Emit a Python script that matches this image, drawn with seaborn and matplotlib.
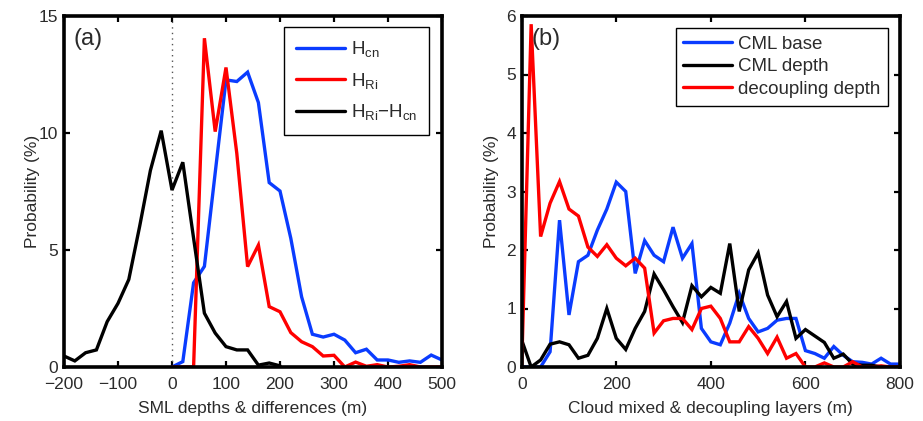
import numpy as np
import pandas as pd
import matplotlib
matplotlib.use("Agg")
import matplotlib.pyplot as plt
import seaborn as sns

# ---- panel (a): SML depths and their difference (probability, %) ----
x_diff = [-200, -180, -160, -140, -120, -100, -80, -60, -40, -20, 0,
          20, 40, 60, 80, 100, 120, 140, 160, 180, 200]
p_diff = [0.47, 0.26, 0.61, 0.73, 1.94, 2.72, 3.74, 6.0, 8.4, 10.1, 7.56,
          8.75, 5.5, 2.3, 1.45, 0.87, 0.73, 0.73, 0.08, 0.17, 0.05]

x_sml = [0, 20, 40, 60, 80, 100, 120, 140, 160, 180, 200, 220, 240, 260,
         280, 300, 320, 340, 360, 380, 400, 420, 440, 460, 480, 500]
p_hcn = [0.0, 0.23, 3.6, 4.3, 8.3, 12.27, 12.2, 12.6, 11.3, 7.88, 7.52, 5.5,
         3.0, 1.4, 1.28, 1.4, 1.15, 0.61, 0.76, 0.3, 0.3, 0.2, 0.26, 0.2,
         0.51, 0.3]
p_hri = [0.0, 0.0, 0.0, 14.05, 10.06, 12.8, 9.13, 4.29, 5.21, 2.58, 2.36,
         1.47, 1.08, 0.87, 0.47, 0.5, 0.0, 0.21, 0.03, 0.1, 0.0, 0.03, 0.1,
         0.0, 0.0, 0.0]

# ---- panel (b): cloud mixed layer and decoupling layers ----
x_cml = list(range(0, 801, 20))
p_cml_base = [0.0, 0.0, 0.0, 0.26, 2.51, 0.89, 1.8, 1.91, 2.34, 2.7, 3.16,
              3.0, 1.6, 2.16, 1.91, 1.8, 2.39, 1.86, 2.11, 0.66, 0.43, 0.38,
              0.75, 1.26, 0.83, 0.6, 0.66, 0.8, 0.83, 0.83, 0.28, 0.23, 0.15,
              0.35, 0.2, 0.09, 0.08, 0.05, 0.15, 0.05, 0.05]
p_cml_depth = [0.46, 0.0, 0.12, 0.39, 0.43, 0.38, 0.15, 0.2, 0.49, 1.0,
               0.49, 0.3, 0.66, 0.95, 1.59, 1.32, 1.03, 0.76, 1.39, 1.2,
               1.36, 1.26, 2.11, 0.95, 1.66, 1.95, 1.23, 0.86, 1.12, 0.49,
               0.64, 0.53, 0.42, 0.15, 0.22, 0.05, 0.03, 0.03, 0.0, 0.0, 0.0]
p_decoup = [0.0, 5.86, 2.23, 2.8, 3.17, 2.7, 2.58, 2.05, 1.89, 2.09, 1.86,
            1.73, 1.86, 1.69, 0.58, 0.79, 0.83, 0.83, 0.64, 1.0, 1.04, 0.83,
            0.43, 0.43, 0.69, 0.49, 0.23, 0.51, 0.15, 0.23, 0.0, 0.0, 0.07,
            0.0, 0.0, 0.09, 0.0, 0.0, 0.02, 0.0, 0.0]

xticks_a = [-200, -100, 0, 100, 200, 300, 400, 500]
yticks_a = [0, 5, 10, 15]
xticks_b = [0, 200, 400, 600, 800]
yticks_b = [0, 1, 2, 3, 4, 5, 6]

BLUE = "#0a3cff"
RED = "#ff0000"
BLACK = "#000000"
TXT = "#2b2b2b"

sns.set_theme(style="ticks")
plt.rcParams["font.family"] = ["Liberation Sans", "DejaVu Sans"]
plt.rcParams["mathtext.fontset"] = "custom"
plt.rcParams["mathtext.rm"] = "Liberation Sans"
plt.rcParams["mathtext.it"] = "Liberation Sans"
plt.rcParams["text.color"] = TXT
plt.rcParams["axes.labelcolor"] = TXT
plt.rcParams["xtick.color"] = BLACK
plt.rcParams["ytick.color"] = BLACK
plt.rcParams["xtick.labelcolor"] = TXT
plt.rcParams["ytick.labelcolor"] = TXT

fig = plt.figure(figsize=(9.23, 4.21), dpi=100)
ax_a = fig.add_axes([64 / 923, 1 - 367 / 421, 378 / 923, 351 / 421])
ax_b = fig.add_axes([521.7 / 923, 1 - 367 / 421, 378.3 / 923, 351 / 421])

LW = 2.4


def style_axes(ax, xlim, ylim, xticks, yticks):
    ax.set_xlim(*xlim)
    ax.set_ylim(*ylim)
    ax.set_xticks(xticks)
    ax.set_yticks(yticks)
    ax.set_xticklabels([str(t).replace("-", "\u2212") for t in xticks])
    ax.tick_params(direction="in", length=4, width=1.6, top=True, right=True,
                   labelsize=12.5)
    ax.tick_params(axis="x", pad=7)
    ax.tick_params(axis="y", pad=4)
    for sp in ax.spines.values():
        sp.set_visible(True)
        sp.set_linewidth(2.6)
        sp.set_color(BLACK)
    ax.grid(False)


# panel (a)
df_hcn = pd.DataFrame({"x": x_sml, "p": p_hcn})
df_hri = pd.DataFrame({"x": x_sml, "p": p_hri})
df_diff = pd.DataFrame({"x": x_diff, "p": p_diff})

ax_a.axvline(0, color="#555555", lw=1.0, ls=(0, (1, 3)), zorder=1)
sns.lineplot(data=df_hcn, x="x", y="p", ax=ax_a, color=BLUE, lw=LW,
             label=r"$\mathrm{H_{cn}}$")
sns.lineplot(data=df_hri, x="x", y="p", ax=ax_a, color=RED, lw=LW,
             label=r"$\mathrm{H_{Ri}}$")
sns.lineplot(data=df_diff, x="x", y="p", ax=ax_a, color=BLACK, lw=LW,
             label=r"$\mathrm{H_{Ri}{-}H_{cn}}$")
style_axes(ax_a, (-200, 500), (0, 15), xticks_a, yticks_a)
ax_a.set_xlabel("SML depths & differences (m)", fontsize=12.5, labelpad=7)
ax_a.set_ylabel("Probability (%)", fontsize=12.5, labelpad=-1)
ax_a.text(0.025, 0.965, "(a)", transform=ax_a.transAxes, fontsize=17,
          va="top", ha="left", color=TXT)
leg_a = ax_a.legend(loc="upper right", bbox_to_anchor=(0.9656, 0.9687),
                    borderaxespad=0, fontsize=13.5, handlelength=2.6,
                    labelspacing=0.62, handletextpad=0.3, borderpad=0.65,
                    fancybox=False, framealpha=1, edgecolor=BLACK)
leg_a.get_frame().set_linewidth(1.0)

# panel (b)
df_b = pd.DataFrame({"x": x_cml, "base": p_cml_base, "depth": p_cml_depth,
                     "decoup": p_decoup})
sns.lineplot(data=df_b, x="x", y="base", ax=ax_b, color=BLUE, lw=LW,
             label="CML base")
sns.lineplot(data=df_b, x="x", y="depth", ax=ax_b, color=BLACK, lw=LW,
             label="CML depth")
sns.lineplot(data=df_b, x="x", y="decoup", ax=ax_b, color=RED, lw=LW,
             label="decoupling depth")
style_axes(ax_b, (0, 800), (0, 6), xticks_b, yticks_b)
ax_b.set_xlabel("Cloud mixed & decoupling layers (m)", fontsize=12.5,
                labelpad=7)
ax_b.set_ylabel("Probability (%)", fontsize=12.5, labelpad=5)
ax_b.text(0.025, 0.965, "(b)", transform=ax_b.transAxes, fontsize=17,
          va="top", ha="left", color=TXT)
leg_b = ax_b.legend(loc="upper right", bbox_to_anchor=(0.9675, 0.966),
                    borderaxespad=0, fontsize=13.5, handlelength=2.6,
                    labelspacing=0.3, handletextpad=0.3, borderpad=0.4,
                    fancybox=False, framealpha=1, edgecolor=BLACK)
leg_b.get_frame().set_linewidth(1.0)

for ax in (ax_a, ax_b):
    for line in ax.get_lines():
        line.set_solid_joinstyle("miter")

fig.savefig("out.png", dpi=100)
